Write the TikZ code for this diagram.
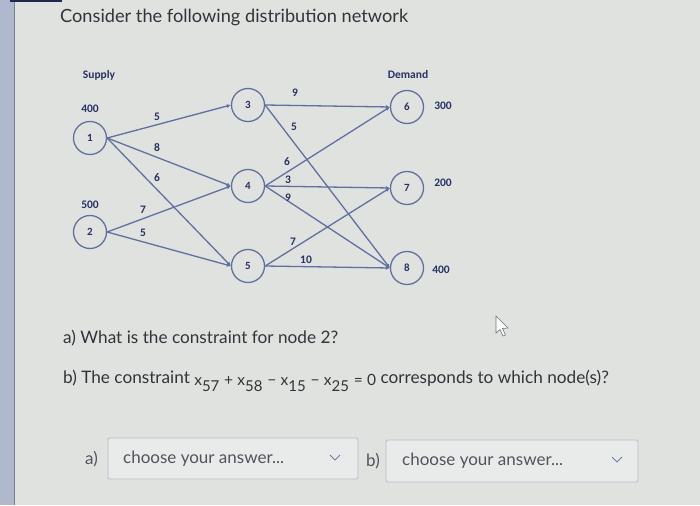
\documentclass[tikz,border=0pt]{standalone}
\usepackage{fontspec}
\setmainfont{Lato}
\newfontfamily\netfont{Carlito}
\usetikzlibrary{arrows.meta}

\begin{document}
\begin{tikzpicture}[x=1pt, y=-1pt, >={Latex[length=4pt,width=4pt]},
  netnode/.style={circle, draw=edgecolor, line width=1.3pt, minimum size=33pt,
    inner sep=0pt, text=navytext, font=\netfont\bfseries\fontsize{11}{11}\selectfont},
  netedge/.style={->, line width=1.3pt, draw=edgecolor},
  cost/.style={text=navytext, inner sep=0pt, font=\netfont\bfseries\fontsize{11.5}{11.5}\selectfont},
  amount/.style={text=navytext, inner sep=0pt, font=\netfont\bfseries\fontsize{11.5}{11.5}\selectfont},
  head/.style={text=navytext, inner sep=0pt, font=\netfont\bfseries\fontsize{11.5}{11.5}\selectfont},
  question/.style={anchor=west, inner sep=0pt, text=textgray, font=\fontsize{17.2}{17.2}\selectfont},
  answerbox/.style={draw=boxline, fill=boxfill, rounded corners=2pt, line width=0.8pt},
  answertext/.style={anchor=west, inner sep=0pt, text=answergray, font=\fontsize{17}{17}\selectfont}]

\definecolor{pagebg}{RGB}{223, 226, 223}
\definecolor{stripcolor}{RGB}{176, 184, 206}
\definecolor{edgecolor}{RGB}{98, 112, 160}
\definecolor{navytext}{RGB}{40, 50, 100}
\definecolor{textgray}{RGB}{50, 52, 58}
\definecolor{answergray}{RGB}{80, 84, 92}
\definecolor{boxline}{RGB}{180, 188, 200}
\definecolor{boxfill}{RGB}{232, 235, 234}
\definecolor{chevroncolor}{RGB}{110, 125, 165}

% page
\useasboundingbox (0,0) rectangle (700,505);
\fill[pagebg] (0,0) rectangle (700,505);
\fill[stripcolor] (0,0) rectangle (14,505);
\draw[stripcolor!70!black, line width=0.6pt] (14,0) -- (14,505);
\fill[navytext!80!black] (10,0) rectangle (62,2.5);

\node[question, font=\fontsize{18.2}{18.2}\selectfont] (title) at (60,17) {Consider the following distribution network};

% network
\node[head] (supply) at (99,75) {Supply};
\node[head] (demand) at (408,75) {Demand};

\node[netnode] (n1) at (90,138) {1};
\node[netnode] (n2) at (90,232) {2};
\node[netnode] (n3) at (248,105) {3};
\node[netnode] (n4) at (248,186) {4};
\node[netnode] (n5) at (248,266) {5};
\node[netnode] (n6) at (407,107) {6};
\node[netnode] (n7) at (407,188) {7};
\node[netnode] (n8) at (407,268) {8};

\node[amount] (s1) at (90,109) {400};
\node[amount] (s2) at (90,205) {500};
\node[amount] (d6) at (443,106) {300};
\node[amount] (d7) at (443,183) {200};
\node[amount] (d8) at (441,270) {400};

\draw[netedge] (n1.east) -- (n3.west);
\draw[netedge] (n1.east) -- (n4.west);
\draw[netedge] (n1.east) -- (n5.west);
\draw[netedge] (n2.east) -- (n4.west);
\draw[netedge] (n2.east) -- (n5.west);
\draw[netedge] (n3.east) -- (n6.west);
\draw[netedge] (n3.east) -- (n8.west);
\draw[netedge] (n4.east) -- (n6.west);
\draw[netedge] (n4.east) -- (n7.west);
\draw[netedge] (n4.east) -- (n8.west);
\draw[netedge] (n5.east) -- (n7.west);
\draw[netedge] (n5.east) -- (n8.west);

\node[cost] (c13) at (157,117) {5};
\node[cost] (c14) at (157,148) {8};
\node[cost] (c15) at (157,178) {6};
\node[cost] (c24) at (143,210) {7};
\node[cost] (c25) at (143,233) {5};
\node[cost] (c36) at (295,93) {9};
\node[cost] (c38) at (294,127) {5};
\node[cost] (c46) at (287,162) {6};
\node[cost] (c47) at (288,180) {3};
\node[cost] (c48) at (288,198) {9};
\node[cost] (c57) at (293,242) {7};
\node[cost] (c58) at (306,260) {10};

% questions
\node[question] (qa) at (63,338) {a) What is the constraint for node 2?};
\node[question] (qb) at (63,381) {b) The constraint
  {\fontsize{15.5}{15.5}\selectfont\raisebox{-2pt}{x\textsubscript{\fontsize{15}{15}\selectfont 57}\;+\;x\textsubscript{\fontsize{15}{15}\selectfont 58}\;−\;x\textsubscript{\fontsize{15}{15}\selectfont 15}\;−\;x\textsubscript{\fontsize{15}{15}\selectfont 25}\;=\;0}}
  corresponds to which node(s)?};

% cursor
\filldraw[fill=white!92!pagebg, draw=textgray!70, line width=0.6pt]
  (496,316) -- (496,333) -- (500,329.5) -- (503,336) -- (505.5,335) -- (502.5,328.5) -- (508,328) -- cycle;

% answer boxes
\node[answertext] (la) at (85,459) {a)};
\draw[answerbox] (108,438) rectangle (358,479);
\node[answertext] (ta) at (123,459) {choose your answer...};
\draw[chevroncolor, line width=0.9pt] (330,455) -- (335,460) -- (340,455);

\node[answertext] (lb) at (366,461) {b)};
\draw[answerbox] (386,440) rectangle (638,482);
\node[answertext] (tb) at (402,461) {choose your answer...};
\draw[chevroncolor, line width=0.9pt] (612,457) -- (617,462) -- (622,457);

\end{tikzpicture}
\end{document}
